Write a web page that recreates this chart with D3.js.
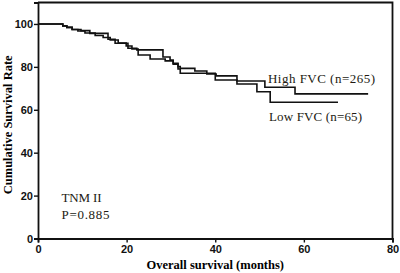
<!DOCTYPE html>
<html>
<head>
<meta charset="utf-8">
<script src="https://cdn.jsdelivr.net/npm/d3@7"></script>
<style>
  body { margin: 0; background: #fff; }
  .tick text { font-family: "Liberation Sans", Arial, sans-serif; font-weight: bold; font-size: 11px; fill: #111; }
  .note { font-family: "Liberation Serif", "Noto Sans CJK SC", serif; font-size: 13px; fill: #221a12; }
</style>
</head>
<body>
<div id="wrapper"></div>
<script>
// survival steps: [month, survival %]
const highMonths = [0, 5.6, 6.5, 7.7, 9.7, 11.7, 15.8, 17.4, 20.3, 22.3, 28.2, 29.8, 30.5, 31.6, 32.1, 35.4, 38.1, 40.2, 44.9, 51.2, 58.0, 74.5];
const highSurv   = [100, 99.1, 98.4, 97.4, 96.9, 95.6, 92.9, 91.0, 88.7, 87.9, 84.6, 83.2, 81.7, 80.1, 79.3, 78.1, 76.7, 75.8, 73.4, 70.5, 67.4, 67.4];
const lowMonths  = [0, 5.6, 6.5, 7.7, 9.0, 10.6, 12.9, 14.7, 16.3, 18.1, 19.9, 21.2, 22.6, 25.3, 28.7, 30.5, 31.6, 32.1, 40.0, 44.9, 49.4, 52.4, 67.7];
const lowSurv    = [100, 99.1, 98.4, 97.4, 96.7, 95.8, 94.6, 93.7, 92.5, 91.1, 89.7, 88.3, 85.5, 83.7, 82.8, 81.3, 79.0, 77.0, 73.9, 72.0, 68.4, 63.5, 63.5];
const xTicks = [0, 20, 40, 60, 80];
const yTicks = [0, 20, 40, 60, 80, 100];

const width = 400, height = 273;
const margin = { top: 2.5, right: 7.5, bottom: 34.5, left: 38 };

const svg = d3.select("#wrapper").append("svg")
  .attr("width", width)
  .attr("height", height);

const x = d3.scaleLinear().domain([0, 80]).range([margin.left, width - margin.right]);
const y = d3.scaleLinear().domain([0, 110]).range([height - margin.bottom, margin.top]);

// frame (top + right)
svg.append("path")
  .attr("d", `M${x(0)},${y(110)}H${x(80)}V${y(0)}`)
  .attr("fill", "none")
  .attr("stroke", "#111")
  .attr("stroke-width", 1.8);

const xAxis = svg.append("g")
  .attr("transform", `translate(0,${y(0)})`)
  .call(d3.axisBottom(x).tickValues(xTicks).tickSize(4).tickPadding(3));
const yAxis = svg.append("g")
  .attr("transform", `translate(${x(0)},0)`)
  .call(d3.axisLeft(y).tickValues(yTicks).tickSize(4).tickPadding(1));
[xAxis, yAxis].forEach(g => {
  g.select(".domain").attr("stroke", "#111").attr("stroke-width", 1.8);
  g.selectAll(".tick line").attr("stroke", "#111").attr("stroke-width", 1.4);
});
yAxis.selectAll(".tick text").attr("dy", "0.36em");

// curves
const line = d3.line().curve(d3.curveStepAfter).x(d => x(d[0])).y(d => y(d[1]));
[[highMonths, highSurv], [lowMonths, lowSurv]].forEach(([m, s]) => {
  svg.append("path")
    .datum(m.map((t, i) => [t, s[i]]))
    .attr("d", line)
    .attr("fill", "none")
    .attr("stroke", "#111")
    .attr("stroke-width", 1.6);
});

// titles
svg.append("text")
  .attr("x", x(40)).attr("y", 268.5)
  .attr("text-anchor", "middle")
  .style("font-family", "'Liberation Serif', serif")
  .style("font-weight", "bold")
  .style("font-size", "12.5px")
  .text("Overall survival (months)");
svg.append("text")
  .attr("transform", `translate(8,${y(53)}) rotate(-90)`)
  .attr("dy", "0.35em")
  .attr("text-anchor", "middle")
  .style("font-family", "'Liberation Serif', serif")
  .style("font-weight", "bold")
  .style("font-size", "12.5px")
  .text("Cumulative Survival Rate");

// labels
const notes = [
  { text: "High FVC (n=265)", x: 268, y: 82.5, w: 107 },
  { text: "Low FVC (n=65)", x: 269, y: 120.5, w: 93 },
  { text: "TNM II", x: 61.5, y: 201.5, w: 40 },
  { text: "P=0.885", x: 61.5, y: 218.5, w: 48 }
];
svg.selectAll(".note").data(notes).join("text")
  .attr("class", "note")
  .attr("x", d => d.x).attr("y", d => d.y)
  .attr("textLength", d => d.w)
  .attr("lengthAdjust", "spacing")
  .text(d => d.text);
</script>
</body>
</html>
